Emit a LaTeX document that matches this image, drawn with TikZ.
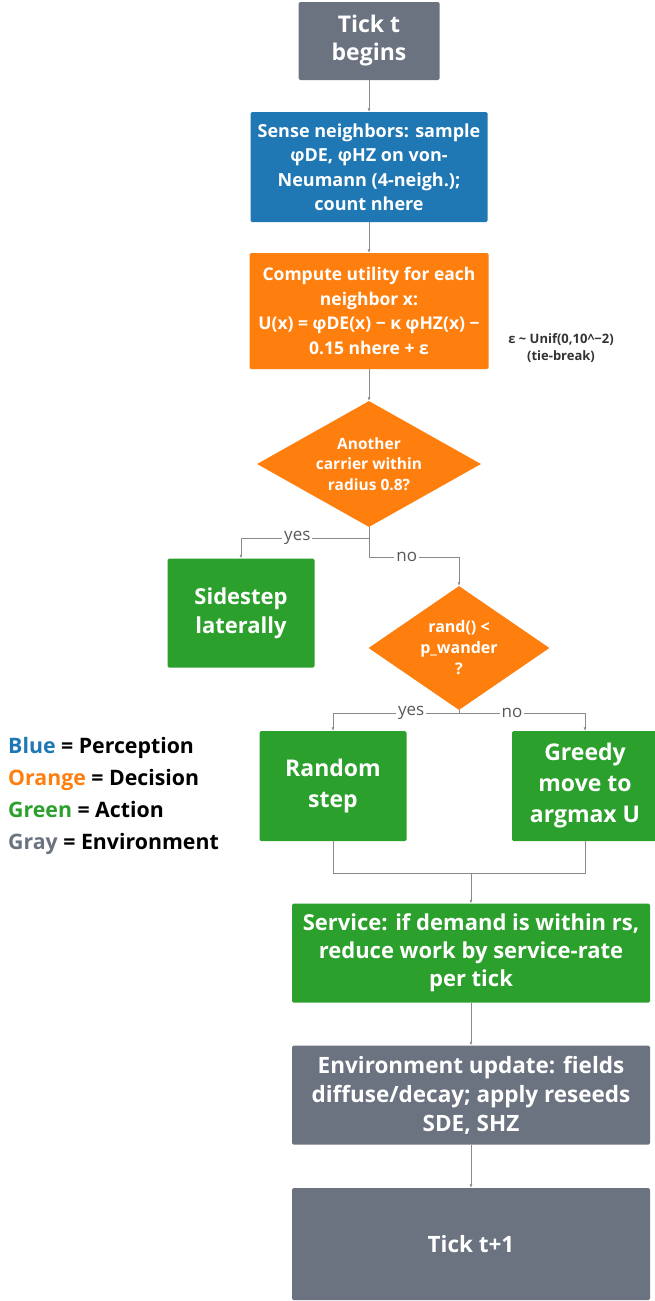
\documentclass[tikz,border=0pt]{standalone}
\usepackage{fontspec}
\setmainfont{Open Sans}
\usetikzlibrary{shapes.geometric,arrows.meta}
\definecolor{envgray}{HTML}{6B7280}
\definecolor{percblue}{HTML}{1F77B4}
\definecolor{decorange}{HTML}{FF7F0E}
\definecolor{actgreen}{HTML}{2CA02C}
\definecolor{linegray}{HTML}{8A8A8A}
\begin{document}
\begin{tikzpicture}
        [
           x=1pt, y=-1pt,
           every node/.style={inner sep=0pt},
           box/.style={rectangle, rounded corners=1.5pt, text=white, align=center, font=\bfseries},
           decision/.style={diamond, fill=decorange, text=white, align=center, font=\bfseries\fontsize{15.5}{20.5}\selectfont},
           conn/.style={draw=linegray, line width=0.7pt, -{Latex[length=3.5pt,width=3pt]}},
           plain/.style={draw=linegray, line width=0.7pt},
           lbl/.style={fill=white, inner sep=2pt, text=black!65, font=\fontsize{17}{18}\selectfont}
        ]
        \useasboundingbox (0,0) rectangle (655,1301);
        % main column
        \node[box, fill=envgray, minimum width=141, minimum height=78, font=\bfseries\fontsize{23}{28}\selectfont] (tick) at (369,41) {Tick t\\begins};
        \node[box, fill=percblue, minimum width=237, minimum height=110, font=\bfseries\fontsize{18}{24.5}\selectfont] (sense) at (369,167)
            {Sense neighbors: sample\\φDE, φHZ on von-\\Neumann (4-neigh.);\\count nhere};
        \node[box, fill=decorange, minimum width=239, minimum height=116, font=\bfseries\fontsize{17.5}{24.5}\selectfont] (utility) at (369,311)
            {Compute utility for each\\neighbor x:\\U(x) = φDE(x) − κ φHZ(x) −\\0.15 nhere + ε};
        \node[align=center, text=black!80, font=\bfseries\fontsize{13}{17}\selectfont] (tienote) at (561,348)
            {ε \textasciitilde{} Unif(0,10\textasciicircum{}−2)\\(tie-break)};
        \node[decision, aspect=1.78, minimum width=224, minimum height=126] (near) at (369,464) {Another\\carrier within\\radius 0.8?};
        \node[box, fill=actgreen, minimum width=147, minimum height=109, font=\bfseries\fontsize{22}{29}\selectfont] (side) at (241,613) {Sidestep\\laterally};
        \node[decision, aspect=1.46, minimum width=181, minimum height=124, font=\bfseries\fontsize{16}{21}\selectfont] (wander) at (459,648) {rand() <\\p\_wander\\?};
        \node[box, fill=actgreen, minimum width=147, minimum height=110, font=\bfseries\fontsize{23}{31}\selectfont] (random) at (333,786) {Random\\step};
        \node[box, fill=actgreen, minimum width=146, minimum height=110, font=\bfseries\fontsize{23}{31}\selectfont] (greedy) at (585,786) {Greedy\\move to\\argmax U};
        \node[box, fill=actgreen, minimum width=358, minimum height=99, font=\bfseries\fontsize{22}{28}\selectfont] (service) at (471,953)
            {Service: if demand is within rs,\\reduce work by service-rate\\per tick};
        \node[box, fill=envgray, minimum width=358, minimum height=99, font=\bfseries\fontsize{22.5}{29}\selectfont] (env) at (471,1095)
            {Environment update: fields\\diffuse/decay; apply reseeds\\SDE, SHZ};
        \node[box, fill=envgray, minimum width=358, minimum height=112, font=\bfseries\fontsize{22.5}{28}\selectfont] (tickend) at (471,1244) {Tick t+1};
        % legend
        \node[anchor=west, align=left, font=\bfseries\fontsize{21.3}{32}\selectfont] (legend) at (8,796)
            {\textcolor{percblue}{Blue} = Perception\\\textcolor{decorange}{Orange} = Decision\\\textcolor{actgreen}{Green} = Action\\\textcolor{envgray}{Gray} = Environment};
        % branch points
        \coordinate (fork1) at (369,538);
        \coordinate (fork1b) at (369,557);
        \coordinate (fork2) at (459,713);
        \coordinate (join) at (471,873);
        % connectors
        \draw[conn] (tick) -- (sense);
        \draw[conn] (sense) -- (utility);
        \draw[conn] (utility) -- (near);
        \draw[plain] (near.south) -- (fork1);
        \draw[conn] (fork1) -| node[lbl, pos=0.28]{yes} (side.north);
        \draw[conn] (fork1) -- (fork1b) -| node[lbl, pos=0.21]{no} (wander.north);
        \draw[plain] (wander.south) -- (fork2);
        \draw[conn] (fork2) -| node[lbl, pos=0.19]{yes} (random.north);
        \draw[conn] (fork2) -| node[lbl, pos=0.21]{no} (greedy.north);
        \draw[plain] (random.south) |- (join) -| (greedy.south);
        \draw[conn] (join) -- (service);
        \draw[conn] (service) -- (env);
        \draw[conn] (env) -- (tickend);
    \end{tikzpicture}
\end{document}
